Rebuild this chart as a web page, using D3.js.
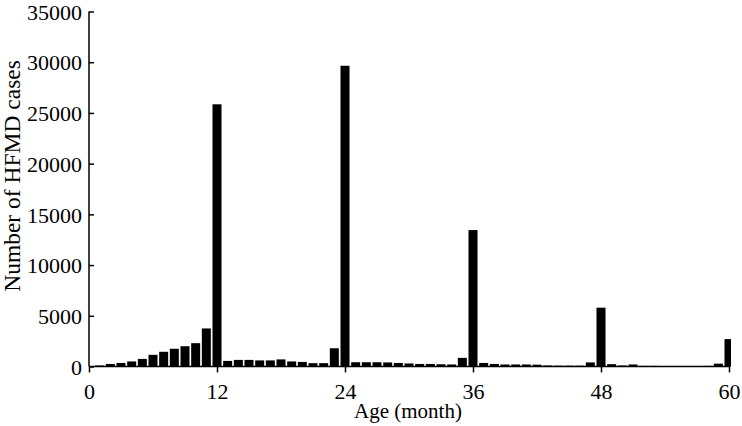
<!DOCTYPE html>
<html>
<head>
<meta charset="utf-8">
<script src="https://cdn.jsdelivr.net/npm/d3@7"></script>
<style>
  html, body { margin: 0; padding: 0; background: #fff; }
  svg { display: block; }
  text { font-family: "Liberation Serif", "Times New Roman", serif; fill: #000; }
</style>
</head>
<body>
<svg id="chart" width="742" height="426"></svg>
<script>
// Age in months (0..60)
const months = d3.range(0, 61);
// Number of HFMD cases per month of age
const cases = [
  0, 100, 250, 350, 500, 750, 1150, 1450, 1750, 2000, 2300, 3750, 25850,
  550, 650, 650, 600, 600, 700, 500, 450, 330, 330, 1800, 29650,
  420, 420, 420, 400, 350, 300, 250, 250, 220, 200, 850, 13450,
  350, 250, 200, 200, 200, 180, 100, 80, 80, 80, 400, 5800,
  230, 100, 200, 60, 60, 50, 50, 50, 50, 60, 280, 2700
];
const xTicks = [0, 12, 24, 36, 48, 60];
const yTicks = [0, 5000, 10000, 15000, 20000, 25000, 30000, 35000];
const xTitle = "Age (month)";
const yTitle = "Number of HFMD cases";

const svg = d3.select("#chart");
const pLeft = 89, pRight = 729, pTop = 11.5, pBottom = 366.5;
const x = d3.scaleLinear().domain([0, 60]).range([pLeft, pRight]);
const y = d3.scaleLinear().domain([0, 35000]).range([pBottom, pTop]);
const barW = 9;

svg.append("defs").append("clipPath").attr("id", "clip")
  .append("rect").attr("x", pLeft).attr("y", 0).attr("width", pRight + 2 - pLeft).attr("height", pBottom + 1);

svg.append("g").attr("clip-path", "url(#clip)")
  .selectAll("rect").data(months).join("rect")
  .attr("x", d => x(d) - barW / 2)
  .attr("width", barW)
  .attr("y", d => y(cases[d]))
  .attr("height", d => pBottom - y(cases[d]))
  .attr("fill", "#000");

// Y axis (ticks inward)
const yAxis = svg.append("g").attr("transform", `translate(${pLeft},0)`)
  .call(d3.axisRight(y).tickValues(yTicks).tickSize(5).tickFormat(d3.format("d")));
yAxis.select(".domain").attr("stroke", "#000").attr("stroke-width", 1.5).attr("d", `M0,${pTop}V${pBottom}`);
yAxis.selectAll(".tick line").attr("stroke", "#000").attr("stroke-width", 1.5);
yAxis.selectAll(".tick text")
  .attr("x", -7).attr("text-anchor", "end").attr("dy", "0.35em")
  .style("font-size", "22px").style("font-family", "Liberation Serif");

// X axis (ticks outward)
const xAxis = svg.append("g").attr("transform", `translate(0,${pBottom})`)
  .call(d3.axisBottom(x).tickValues(xTicks).tickSize(6).tickFormat(d3.format("d")));
xAxis.select(".domain").attr("stroke", "#000").attr("stroke-width", 1.5).attr("d", `M${pLeft},0H${pRight + 1}`);
xAxis.selectAll(".tick line").attr("stroke", "#000").attr("stroke-width", 1.5);
xAxis.selectAll(".tick text")
  .attr("y", 32).attr("dy", 0)
  .style("font-size", "22px").style("font-family", "Liberation Serif");

svg.append("text").attr("x", 408).attr("y", 418).attr("text-anchor", "middle")
  .style("font-size", "21px").text(xTitle);

svg.append("text").attr("transform", "translate(20,176) rotate(-90)").attr("text-anchor", "middle")
  .style("font-size", "23.5px").text(yTitle);
</script>
</body>
</html>
